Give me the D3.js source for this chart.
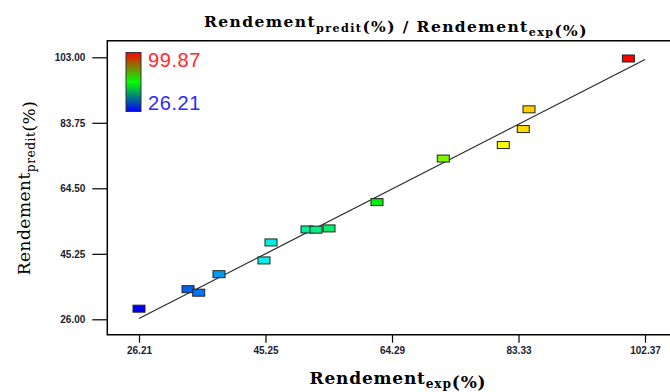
<!DOCTYPE html>
<html>
<head>
<meta charset="utf-8">
<script src="https://cdn.jsdelivr.net/npm/d3@7/dist/d3.min.js"></script>
<style>
  html, body { margin: 0; padding: 0; background: #fff; }
  svg { display: block; }
</style>
</head>
<body>
<svg id="chart" width="670" height="392"></svg>
<script>
// Experimental vs. predicted yield (%) for each run
const rendementExp    = [26.21, 33.59, 35.20, 38.25, 45.02, 46.08, 51.50, 52.85, 54.81, 62.03, 72.01, 81.04, 84.05, 84.91, 99.87];
const rendementPredit = [29.12, 34.85, 33.82, 39.26, 43.30, 48.59, 52.41, 52.35, 52.71, 60.44, 73.24, 77.21, 81.91, 87.71, 102.65];

// Axis ticks
const xTicks = [26.21, 45.25, 64.29, 83.33, 102.37];
const yTicks = [26.00, 45.25, 64.50, 83.75, 103.00];

// Colour legend bounds
const legendMin = 26.21;
const legendMax = 99.87;

const svg = d3.select("#chart");

const x = d3.scaleLinear().domain([26.21, 102.37]).range([139, 645]);
const y = d3.scaleLinear().domain([26.00, 103.00]).range([319.3, 57.3]);

// Rainbow colour ramp for the points
const pointColor = d3.scaleLinear()
  .domain([0, 0.25, 0.5, 0.75, 1])
  .range(["#0000ee", "#00f0f0", "#00ee00", "#ffff00", "#ff0000"])
  .clamp(true);
const tOf = v => (v - legendMin) / (legendMax - legendMin);

// Plot frame (open on the right)
const frame = { left: 107.3, top: 40.7, bottom: 334.7, right: 672 };
svg.append("path")
  .attr("d", `M${frame.right},${frame.top}H${frame.left}V${frame.bottom}H${frame.right}`)
  .attr("fill", "none")
  .attr("stroke", "#000")
  .attr("stroke-width", 1.5);

// Axes
const tickFont = "'Liberation Sans', Arial, sans-serif";
const yAxis = d3.axisLeft(y).tickValues(yTicks).tickSize(15).tickPadding(7)
  .tickFormat(d => d.toFixed(2));
const gy = svg.append("g").attr("transform", `translate(${frame.left},0)`).call(yAxis);
gy.select(".domain").remove();

const xAxis = d3.axisBottom(x).tickValues(xTicks).tickSize(8).tickPadding(4)
  .tickFormat(d => d.toFixed(2));
const gx = svg.append("g").attr("transform", `translate(0,${frame.bottom})`).call(xAxis);
gx.select(".domain").remove();

[gx, gy].forEach(g => {
  g.selectAll("line").attr("stroke", "#000").attr("stroke-width", 1.2);
  g.selectAll("text")
    .attr("font-family", tickFont)
    .attr("font-weight", "bold")
    .attr("font-size", 10)
    .attr("fill", "#1c1c30");
});

// Line of perfect agreement
svg.append("line")
  .attr("x1", x(xTicks[0])).attr("y1", y(xTicks[0]))
  .attr("x2", x(xTicks[xTicks.length - 1])).attr("y2", y(xTicks[xTicks.length - 1]))
  .attr("stroke", "#2a2a2a")
  .attr("stroke-width", 1.2);

// Points as small rectangles
const pw = 12, ph = 7;
svg.append("g").selectAll("rect")
  .data(rendementExp.map((v, i) => ({ exp: v, pred: rendementPredit[i] })))
  .join("rect")
  .attr("x", d => x(d.exp) - pw / 2)
  .attr("y", d => y(d.pred) - ph / 2)
  .attr("width", pw)
  .attr("height", ph)
  .attr("fill", d => pointColor(tOf(d.exp)))
  .attr("stroke", "#222")
  .attr("stroke-width", 1);

// Colour legend
const defs = svg.append("defs");
const grad = defs.append("linearGradient")
  .attr("id", "legendGrad")
  .attr("x1", 0).attr("y1", 0).attr("x2", 0).attr("y2", 1);
grad.append("stop").attr("offset", "0%").attr("stop-color", "#ff0000");
grad.append("stop").attr("offset", "50%").attr("stop-color", "#00ff00");
grad.append("stop").attr("offset", "100%").attr("stop-color", "#0000ff");

svg.append("rect")
  .attr("x", 126).attr("y", 52.5)
  .attr("width", 15).attr("height", 59)
  .attr("fill", "url(#legendGrad)")
  .attr("stroke", "#333")
  .attr("stroke-width", 1);

svg.append("text")
  .attr("x", 148).attr("y", 67)
  .attr("font-family", tickFont)
  .attr("font-size", 20)
  .attr("letter-spacing", 0.6)
  .attr("fill", "#ff2b2b")
  .text(legendMax.toFixed(2));
svg.append("text")
  .attr("x", 148).attr("y", 110)
  .attr("font-family", tickFont)
  .attr("font-size", 20)
  .attr("letter-spacing", 0.6)
  .attr("fill", "#2b2bff")
  .text(legendMin.toFixed(2));

// Labels with subscripts
const serif = "'DejaVu Serif', 'Liberation Serif', serif";
function subLabel(sel, parts, size, drop) {
  parts.forEach(p => {
    if (p.sub) {
      sel.append("tspan").attr("font-size", size * 0.72).attr("dy", drop).text(p.sub);
      sel.append("tspan").attr("dy", -drop).text("");
    } else {
      sel.append("tspan").text(p.t);
    }
  });
}

const title = svg.append("text")
  .attr("x", 396).attr("y", 27)
  .attr("text-anchor", "middle")
  .attr("font-family", serif).attr("font-weight", "bold").attr("font-size", 15.5)
  .attr("letter-spacing", 1.4)
  .attr("fill", "#000");
subLabel(title, [{ t: "Rendement" }, { sub: "predit" }, { t: "(%) / Rendement" }, { sub: "exp" }, { t: "(%)" }], 15.5, 4.5);

const xLabel = svg.append("text")
  .attr("x", 398).attr("y", 384)
  .attr("text-anchor", "middle")
  .attr("font-family", serif).attr("font-weight", "bold").attr("font-size", 17)
  .attr("letter-spacing", 0.8)
  .attr("fill", "#000");
subLabel(xLabel, [{ t: "Rendement" }, { sub: "exp" }, { t: "(%)" }], 17, 3.5);

const yLabel = svg.append("text")
  .attr("transform", "translate(30,188) rotate(-90)")
  .attr("text-anchor", "middle")
  .attr("font-family", serif).attr("font-size", 17)
  .attr("letter-spacing", 0.5)
  .attr("fill", "#000");
subLabel(yLabel, [{ t: "Rendement" }, { sub: "predit" }, { t: "(%)" }], 17, 4.5);
</script>
</body>
</html>
